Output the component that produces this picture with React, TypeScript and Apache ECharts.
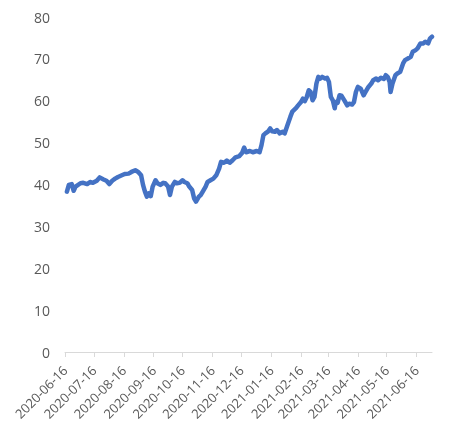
import * as echarts from "echarts";
import { useEffect, useRef } from "react";

// 2020-06-16 .. 2021-07-02
const dates = [
  "2020-06-18", "2020-06-20", "2020-06-23", "2020-06-25", "2020-06-27",
  "2020-07-02", "2020-07-05", "2020-07-09", "2020-07-12", "2020-07-15",
  "2020-07-19", "2020-07-22", "2020-07-26", "2020-07-29", "2020-08-01",
  "2020-08-04", "2020-08-07", "2020-08-10", "2020-08-14", "2020-08-17",
  "2020-08-21", "2020-08-24", "2020-08-28", "2020-08-31", "2020-09-03",
  "2020-09-05", "2020-09-07", "2020-09-09", "2020-09-11", "2020-09-13",
  "2020-09-15", "2020-09-18", "2020-09-20", "2020-09-23", "2020-09-26",
  "2020-09-28", "2020-10-01", "2020-10-03", "2020-10-05", "2020-10-08",
  "2020-10-10", "2020-10-13", "2020-10-16", "2020-10-18", "2020-10-21",
  "2020-10-23", "2020-10-26", "2020-10-28", "2020-10-30", "2020-11-02",
  "2020-11-04", "2020-11-06", "2020-11-09", "2020-11-11", "2020-11-14",
  "2020-11-17", "2020-11-20", "2020-11-23", "2020-11-25", "2020-11-28",
  "2020-12-01", "2020-12-04", "2020-12-07", "2020-12-10", "2020-12-14",
  "2020-12-17", "2020-12-19", "2020-12-21", "2020-12-25", "2020-12-28",
  "2021-01-01", "2021-01-04", "2021-01-06", "2021-01-08", "2021-01-10",
  "2021-01-13", "2021-01-15", "2021-01-17", "2021-01-20", "2021-01-22",
  "2021-01-25", "2021-01-28", "2021-01-30", "2021-02-02", "2021-02-05",
  "2021-02-07", "2021-02-11", "2021-02-13", "2021-02-16", "2021-02-18",
  "2021-02-20", "2021-02-22", "2021-02-24", "2021-02-26", "2021-02-28",
  "2021-03-02", "2021-03-04", "2021-03-06", "2021-03-08", "2021-03-10",
  "2021-03-13", "2021-03-15", "2021-03-17", "2021-03-19", "2021-03-21",
  "2021-03-23", "2021-03-24", "2021-03-26", "2021-03-28", "2021-03-30",
  "2021-04-02", "2021-04-05", "2021-04-07", "2021-04-10", "2021-04-12",
  "2021-04-14", "2021-04-16", "2021-04-19", "2021-04-22", "2021-04-24",
  "2021-04-27", "2021-04-30", "2021-05-02", "2021-05-05", "2021-05-07",
  "2021-05-10", "2021-05-13", "2021-05-15", "2021-05-17", "2021-05-19",
  "2021-05-20", "2021-05-22", "2021-05-25", "2021-05-27", "2021-05-30",
  "2021-06-02", "2021-06-04", "2021-06-07", "2021-06-10", "2021-06-12",
  "2021-06-15", "2021-06-17", "2021-06-20", "2021-06-23", "2021-06-25",
  "2021-06-28", "2021-06-30", "2021-07-02",
];

const values = [
  38.3, 39.9, 40.1, 38.5, 39.5,
  40.3, 40.4, 40.1, 40.6, 40.4,
  40.9, 41.7, 41.2, 40.9, 40.1,
  40.9, 41.4, 41.8, 42.2, 42.5,
  42.6, 43.0, 43.4, 43.0, 42.2,
  39.9, 38.3, 37.1, 37.9, 37.2,
  39.5, 41.0, 40.3, 39.9, 40.4,
  40.3, 39.5, 37.5, 39.5, 40.6,
  40.3, 40.4, 41.0, 40.6, 40.3,
  39.5, 38.7, 36.7, 35.9, 37.1,
  37.5, 38.3, 39.5, 40.6, 41.0,
  41.4, 42.2, 43.8, 45.4, 45.2,
  45.7, 45.2, 45.8, 46.5, 46.8,
  47.6, 48.8, 47.7, 48.0, 47.7,
  48.0, 47.7, 49.4, 51.8, 52.2,
  52.7, 53.4, 52.7, 52.6, 53.0,
  52.2, 52.6, 52.2, 54.2, 56.2,
  57.4, 58.3, 58.9, 59.7, 60.5,
  59.9, 60.9, 62.5, 62.1, 60.1,
  60.9, 64.1, 65.7, 65.3, 65.7,
  65.3, 65.5, 64.5, 60.9, 60.1,
  58.2, 59.7, 59.5, 61.3, 61.2,
  60.1, 58.9, 59.3, 59.1, 59.7,
  62.1, 63.3, 62.9, 61.3, 62.1,
  63.3, 64.1, 64.9, 65.3, 64.9,
  65.5, 65.2, 66.1, 65.7, 64.5,
  62.1, 64.1, 66.1, 66.5, 66.9,
  68.9, 69.7, 70.1, 70.5, 71.7,
  72.1, 72.5, 73.7, 73.7, 74.1,
  73.7, 74.9, 75.3,
];

// x tick labels, the 16th of each month
const tickDates = [
  "2020-06-16", "2020-07-16", "2020-08-16", "2020-09-16", "2020-10-16",
  "2020-11-16", "2020-12-16", "2021-01-16", "2021-02-16", "2021-03-16",
  "2021-04-16", "2021-05-16", "2021-06-16",
];

const startDate = "2020-06-16";
const endDate = "2021-07-02";

function pad(n: number) {
  return n < 10 ? "0" + n : "" + n;
}

// every calendar day of the axis, so that spacing follows real time
function calendarDays(from: string, to: string) {
  const [y0, m0, d0] = from.split("-").map(Number);
  const [y1, m1, d1] = to.split("-").map(Number);
  const cur = new Date(y0, m0 - 1, d0);
  const last = new Date(y1, m1 - 1, d1).getTime();
  const out: string[] = [];
  while (cur.getTime() <= last) {
    out.push(cur.getFullYear() + "-" + pad(cur.getMonth() + 1) + "-" + pad(cur.getDate()));
    cur.setDate(cur.getDate() + 1);
  }
  return out;
}

export default function App() {
  const chartRef = useRef<HTMLDivElement>(null);

  useEffect(() => {
    const chart = echarts.init(chartRef.current, null, { renderer: "svg" });
    const days = calendarDays(startDate, endDate);
    const isTick = (_i: number, v: string) => tickDates.includes(v);
    const option = {
      animation: false,
      textStyle: { fontFamily: "Open Sans" },
      grid: { left: 65, right: 27, top: 17, bottom: 77, containLabel: false },
      xAxis: {
        type: "category",
        data: days,
        boundaryGap: false,
        axisLine: { lineStyle: { color: "#d9d9d9", width: 1 } },
        axisTick: {
          show: true,
          interval: isTick,
          length: 5,
          lineStyle: { color: "#d9d9d9" },
        },
        splitLine: { show: false },
        axisLabel: {
          interval: isTick,
          rotate: 45,
          margin: 16,
          hideOverlap: false,
          color: "#595959",
          fontSize: 13,
          fontFamily: "Open Sans",
        },
      },
      yAxis: {
        type: "value",
        min: 0,
        max: 80,
        interval: 10,
        axisLine: { show: false },
        axisTick: { show: false },
        splitLine: { show: false },
        axisLabel: {
          color: "#595959",
          fontSize: 14,
          fontFamily: "Open Sans",
          margin: 15,
        },
      },
      series: [
        {
          type: "line",
          data: dates.map((d, i) => [days.indexOf(d), values[i]]),
          showSymbol: false,
          lineStyle: { color: "#4472C4", width: 4.5, join: "round", cap: "round" },
          itemStyle: { color: "#4472C4" },
        },
      ],
    };
    chart.setOption(option);
    return () => {
      chart.dispose();
    };
  }, []);

  return (
    <div
      ref={chartRef}
      style={{ position: "fixed", left: 0, top: 0, width: 459, height: 429 }}
    />
  );
}
